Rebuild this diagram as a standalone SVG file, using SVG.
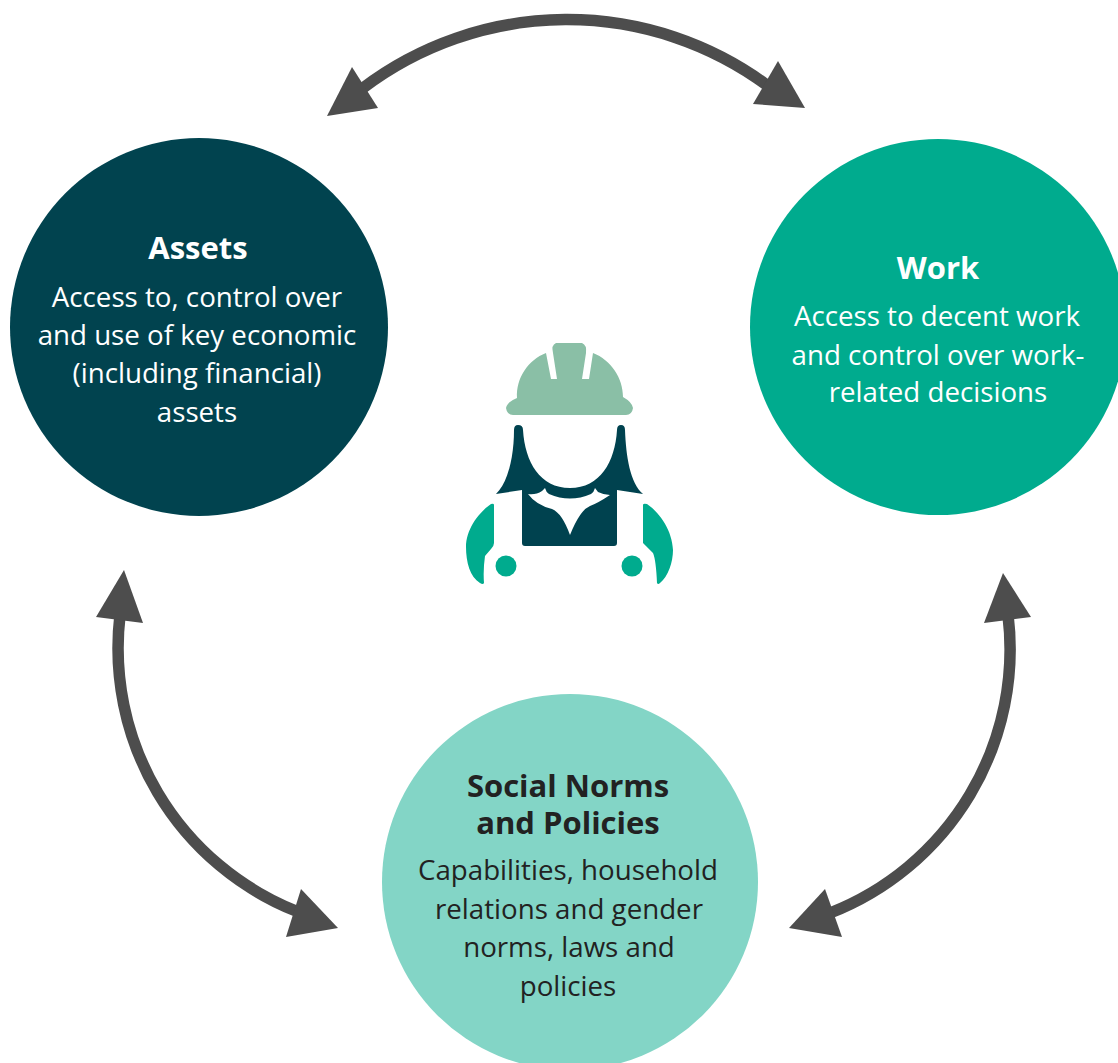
<svg xmlns="http://www.w3.org/2000/svg" width="1118" height="1063" viewBox="0 0 1118 1063">
<defs><filter id="soft" x="-5%" y="-5%" width="110%" height="110%"><feGaussianBlur stdDeviation="0.7"/></filter></defs>
<style>
.c{fill:none;stroke:#4d4d4d;stroke-width:11.500}
.h{fill:#4d4d4d}
text{font-family:"Open Sans","Noto Sans",sans-serif;text-anchor:middle;font-size:27.700px}
.t{font-weight:700;font-size:31px}
.w{fill:#fff}
.d{fill:#222}
.teal{fill:#00ab8e}
</style>
<rect width="1118" height="1063" fill="#fff"/>
<g id="connectors" filter="url(#soft)">
<path class="c" d="M363 88A338 338 0 0 1 768 86"/>
<polygon class="h" points="327,116 352,67 378,108"/>
<polygon class="h" points="805,108 778,61 753,104"/>
<path class="c" d="M120 615A283 283 0 0 0 296 911"/>
<polygon class="h" points="124,570 96,617 143,623"/>
<polygon class="h" points="338,928 301,889 286,937"/>
<path class="c" d="M1008 615A283 283 0 0 1 830 913"/>
<polygon class="h" points="1003,573 984,623 1031,617"/>
<polygon class="h" points="789,928 825,889 842,937"/>
</g>
<g id="assets">
<circle cx="199" cy="327" r="189" fill="#01434f"/>
<text class="t w" x="198" y="259">Assets</text>
<text class="w" x="197" y="307">Access to, control over</text>
<text class="w" x="197" y="345">and use of key economic</text>
<text class="w" x="197" y="383">(including financial)</text>
<text class="w" x="197" y="422">assets</text>
</g>
<g id="work">
<circle cx="938" cy="327" r="188" fill="#00ab8e"/>
<text class="t w" x="938" y="279">Work</text>
<text class="w" x="937" y="326">Access to decent work</text>
<text class="w" x="938" y="365">and control over work-</text>
<text class="w" x="938" y="402">related decisions</text>
</g>
<g id="social-norms">
<circle cx="570" cy="882" r="188" fill="#83d5c6"/>
<text class="t d" x="568" y="797">Social Norms</text>
<text class="t d" x="568" y="834">and Policies</text>
<text class="d" x="568" y="880">Capabilities, household</text>
<text class="d" x="569" y="919">relations and gender</text>
<text class="d" x="569" y="957">norms, laws and</text>
<text class="d" x="568" y="996">policies</text>
</g>
<g id="worker" filter="url(#soft)">
<path fill="#8abfa6" d="M506 408Q507 402 517 398C516 378 528 360 546 353L551 379H557L553 353Q551 345 556 343H582Q587 345 586 353L582 379H589L593 353C611 360 623 378 623 397Q632 402 633 408Q632 415 626 415H513Q507 415 506 408Z"/>
<path fill="#01434f" d="M514 430Q514 425 518 425Q523 425 523 430C525 462 540 488 570 488C600 488 615 462 617 430Q617 425 621 425Q625 425 625 430C626 456 630 483 643 494L617 490V543Q617 546 614 546H525Q522 546 522 543V490L496 494C508 483 514 456 514 430Z"/>
<path fill="#fff" d="M528 494Q536 495 542 491L545 488Q546 492 549 494Q570 503 591 494Q594 492 595 488L598 492Q604 495 610 495Q598 503 590 506Q580 510 570 535Q562 513 552 509Q536 505 528 494Z"/>
<path class="teal" d="M494 505V543Q494 546 491 549L485 556Q483 570 484 583Q483 585 480 583C470 577 466 562 466 547C466 530 478 513 491 504Q494 503 494 505Z"/>
<path class="teal" d="M643 505V543L653 553Q656 560 657 583Q658 585 660 583C668 577 673 562 673 550C672 530 660 513 647 504Q643 503 643 505Z"/>
<circle class="teal" cx="506" cy="566" r="10.500"/>
<circle class="teal" cx="632" cy="566" r="10.500"/>
</g>
</svg>
